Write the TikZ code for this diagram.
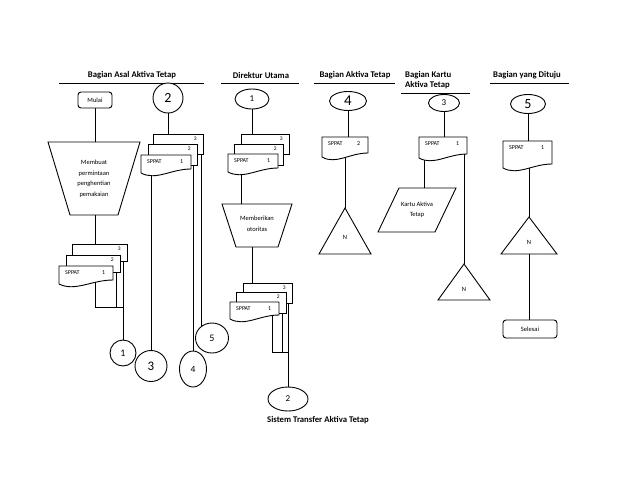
\documentclass[tikz,border=0pt]{standalone}
\usepackage{fontspec}
\setmainfont{Carlito}
\usetikzlibrary{shapes.geometric,backgrounds}

\tikzset{
  flow/.style={line width=0.9pt},
  lanehead/.style={font=\fontsize{8.7}{10.5}\selectfont\bfseries, inner sep=0pt, align=left},
  shapetext/.style={font=\fontsize{6.5}{10.5}\selectfont, align=center, inner sep=0pt},
  terminal/.style={draw, flow, fill=white, rounded corners=3pt, inner sep=0pt, shapetext},
  offpage/.style={draw, flow, fill=white, ellipse, inner sep=0pt},
  doctext/.style={font=\fontsize{6}{7}\selectfont, inner sep=0pt},
  docnum/.style={font=\fontsize{5.5}{6}\selectfont, inner ysep=3pt, inner xsep=7pt},
  sheetback/.style={draw, flow, fill=white, inner sep=0pt, anchor=north west},
  sheetfront/.style={inner sep=0pt, anchor=north west,
    label={[doctext, anchor=north west, inner xsep=6pt, inner ysep=4.5pt]north west:SPPAT}},
}

% front sheet of a document stack: name, left, top, width, height, sheet no.
\newcommand{\sppatdoc}[6]{%
  \draw[flow, fill=white] (#2,#3) -- ++(#4,0) -- ++(0,#5-4)
    .. controls +(-0.4*#4,0) and +(0.3*#4,8) .. (#2,#3+#5) -- cycle;
  \node[sheetfront, minimum width=#4pt, minimum height=#5pt,
    label={[doctext, anchor=north east, inner xsep=8pt, inner ysep=4.5pt]north east:#6}] (#1) at (#2,#3) {};}

\begin{document}
\begin{tikzpicture}[x=1pt, y=-1pt]
\useasboundingbox (0,0) rectangle (638,493);

% Lane headings
\node[lanehead] (h1) at (132,75) {Bagian Asal Aktiva Tetap};
\node[lanehead] (h2) at (261,75) {Direktur Utama};
\node[lanehead] (h3) at (355,75) {Bagian Aktiva Tetap};
\node[lanehead, anchor=west] (h4) at (405,80) {Bagian Kartu\\Aktiva Tetap};
\node[lanehead] (h5) at (527,75) {Bagian yang Dituju};
\draw[flow] (59,83) -- (204,83);
\draw[flow] (221,83) -- (299,83);
\draw[flow] (314,83) -- (395,83);
\draw[flow] (401,93) -- (470,93);
\draw[flow] (490,83) -- (569,83);

% Bagian Asal Aktiva Tetap
\node[terminal, minimum width=34pt, minimum height=16pt] (mulai) at (95,100) {Mulai};
\draw[flow] (48,142) -- (140,142) -- (118,215) -- (70,215) -- cycle;
\node[shapetext] (buat) at (94,179) {Membuat\\permintaan\\penghentian\\pemakaian};
\coordinate (buat-in) at (95,142);
\coordinate (buat-out) at (95,215);

\node[sheetback, minimum width=55pt, minimum height=17pt,
  label={[docnum, anchor=north east]north east:3}] (p3) at (72,244) {};
\node[sheetback, minimum width=54pt, minimum height=17pt,
  label={[docnum, anchor=north east]north east:2}] (p2) at (66,255) {};
\sppatdoc{p1}{59}{266}{54}{18}{1}
\coordinate (j1) at (123,307);

\node[offpage, minimum width=30pt, minimum height=30pt, font=\fontsize{14}{14}\selectfont] (k2) at (168,98) {2};
\node[sheetback, minimum width=50pt, minimum height=20pt,
  label={[docnum, anchor=north east]north east:3}] (q3) at (153,134) {};
\node[sheetback, minimum width=49pt, minimum height=21pt,
  label={[docnum, anchor=north east]north east:2}] (q2) at (148,144) {};
\sppatdoc{q1}{141}{155}{50}{18}{1}

\node[offpage, minimum width=26pt, minimum height=26pt, font=\fontsize{10}{10}\selectfont] (k1) at (123,353) {1};
\node[offpage, minimum width=32pt, minimum height=31pt, font=\fontsize{13}{13}\selectfont] (k3) at (151,366) {3};
\node[offpage, minimum width=27pt, minimum height=36pt, font=\fontsize{9.5}{10}\selectfont] (k4) at (193,369) {4};
\node[offpage, minimum width=33pt, minimum height=30pt, font=\fontsize{10}{10}\selectfont] (k5) at (212,338) {5};

% Direktur Utama
\node[offpage, minimum width=34pt, minimum height=20pt, font=\fontsize{9}{9}\selectfont] (d1) at (252,99) {1};
\node[sheetback, minimum width=48pt, minimum height=20pt,
  label={[docnum, anchor=north east]north east:3}] (r3) at (241,134) {};
\node[sheetback, minimum width=49pt, minimum height=21pt,
  label={[docnum, anchor=north east]north east:2}] (r2) at (234,144) {};
\sppatdoc{r1}{228}{154}{50}{18}{1}
\draw[flow] (222,204) -- (292,204) -- (278,247) -- (236,247) -- cycle;
\node[shapetext] (otoritas) at (257,224) {Memberikan\\otoritas};
\coordinate (ot-in) at (241,204);
\coordinate (ot-out) at (252,247);

\node[sheetback, minimum width=49pt, minimum height=20pt,
  label={[docnum, anchor=north east]north east:3}] (s3) at (243,283) {};
\node[sheetback, minimum width=50pt, minimum height=21pt,
  label={[docnum, anchor=north east]north east:2}] (s2) at (236,292) {};
\sppatdoc{s1}{230}{302}{49}{17}{1}
\coordinate (j2) at (288,352);
\node[offpage, minimum width=40pt, minimum height=24pt, font=\fontsize{9}{9}\selectfont] (d2) at (288,399) {2};

% Bagian Aktiva Tetap
\node[offpage, minimum width=37pt, minimum height=19pt, font=\fontsize{15}{15}\selectfont] (a4) at (348,101) {4};
\sppatdoc{t2}{322}{137}{46}{20}{2}
\coordinate (n1-top) at (345,208);
\draw[flow] (n1-top) -- ++(26,46) -- ++(-52,0) -- cycle;
\node[shapetext] (n1) at (345,237) {N};

% Bagian Kartu Aktiva Tetap
\node[offpage, minimum width=31pt, minimum height=17pt, font=\fontsize{9}{9}\selectfont] (a3) at (444,103) {3};
\sppatdoc{u1}{419}{137}{48}{21}{1}
\draw[flow] (399,188) -- (456,188) -- (435,232) -- (378,232) -- cycle;
\node[shapetext] (kartu) at (417,210) {Kartu Aktiva\\Tetap};
\coordinate (kt-in) at (424,188);
\coordinate (n2-top) at (464,264);
\draw[flow] (n2-top) -- ++(26,36) -- ++(-52,0) -- cycle;
\node[shapetext] (n2) at (464,289) {N};

% Bagian yang Dituju
\node[offpage, minimum width=35pt, minimum height=19pt, font=\fontsize{14}{14}\selectfont] (a5) at (528,104) {5};
\sppatdoc{v1}{503}{141}{49}{27}{1}
\coordinate (n3-top) at (529,217);
\draw[flow] (n3-top) -- ++(28,37) -- ++(-56,0) -- cycle;
\node[shapetext] (n3) at (529,242) {N};
\coordinate (n3-bot) at (529,254);
\node[terminal, minimum width=54pt, minimum height=18pt] (selesai) at (530,329) {Selesai};

\node[lanehead] (judul) at (318,420) {Sistem Transfer Aktiva Tetap};

% Flow lines
\begin{pgfonlayer}{background}
\draw[flow] (mulai) -- (buat-in);
\draw[flow] (buat-out) -- (buat-out |- p3.center);
\draw[flow] (p1.center -| buat-out) |- (j1);
\draw[flow] ([xshift=-4pt]p2.east) -- ([xshift=-4pt]p2.east |- j1);
\draw[flow] (p3.center -| k1) -- (k1);
\draw[flow] (k2) -- (k2 |- q3.center);
\draw[flow] (q1.center -| k3) -- (k3);
\draw[flow] (q2.center -| k4) -- (k4);
\draw[flow] (q3.center -| k5.130) -- (k5.130);
\draw[flow] (d1) -- (d1 |- r3.center);
\draw[flow] (r1.center -| ot-in) -- (ot-in);
\draw[flow] (ot-out) -- (ot-out |- s3.center);
\draw[flow] (s3.center -| d2) -- (d2);
\draw[flow] ([xshift=-7pt]s1.east) |- (j2);
\draw[flow] ([xshift=-4pt]s2.east) -- ([xshift=-4pt]s2.east |- j2);
\draw[flow] (a4) -- (a4 |- t2.center);
\draw[flow] (t2.center -| n1-top) -- (n1-top);
\draw[flow] (a3) -- (a3 |- u1.center);
\draw[flow] (u1.center -| kt-in) -- (kt-in);
\draw[flow] (u1.center -| n2-top) -- (n2-top);
\draw[flow] (a5) -- (a5 |- v1.center);
\draw[flow] (v1.center -| n3-top) -- (n3-top);
\draw[flow] (n3-bot) -- (n3-bot |- selesai.north);
\end{pgfonlayer}
\end{tikzpicture}
\end{document}
